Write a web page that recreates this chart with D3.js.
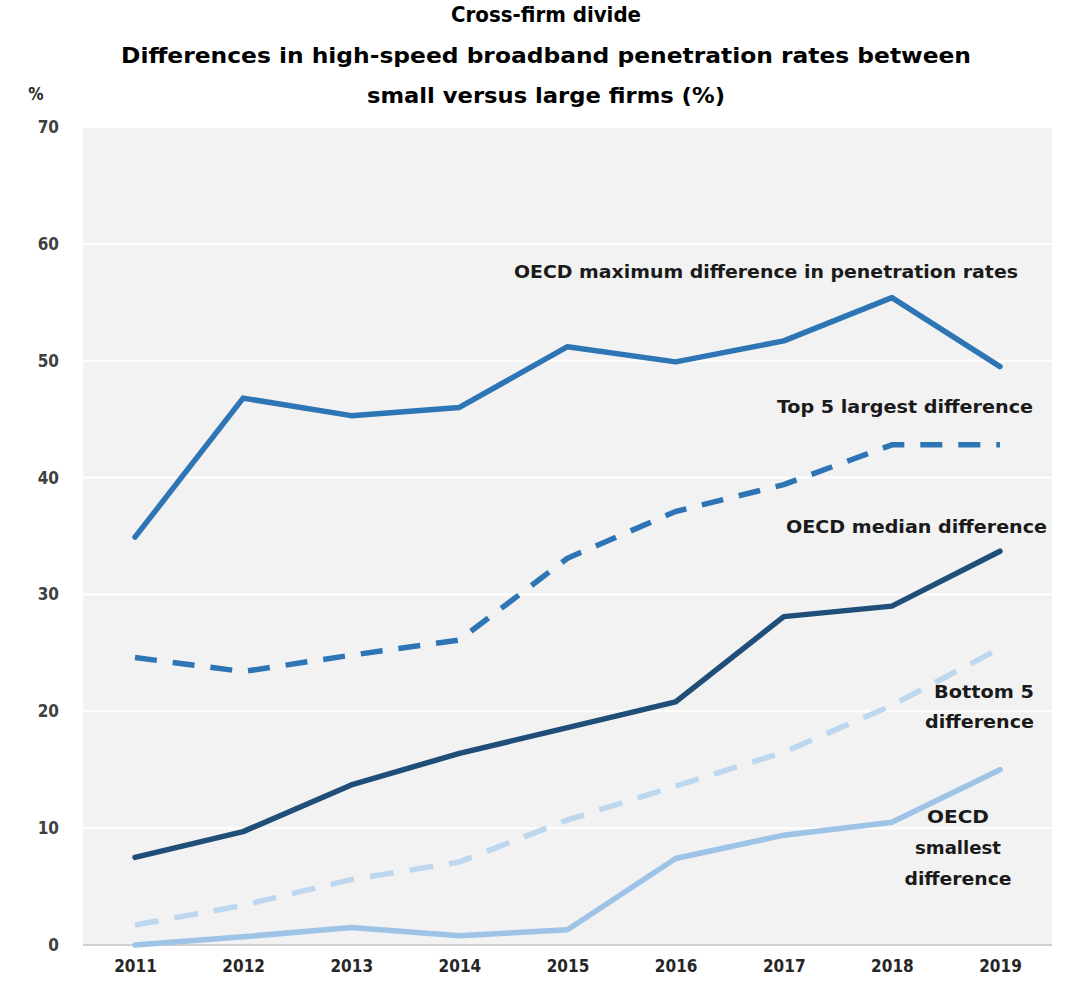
<!DOCTYPE html>
<html>
<head>
<meta charset="utf-8">
<script src="https://cdn.jsdelivr.net/npm/d3@7"></script>
<style>
  html, body { margin: 0; padding: 0; background: #ffffff; }
  svg text { font-family: 'Liberation Sans Narrow', 'DejaVu Sans Condensed', 'Liberation Sans', sans-serif; font-weight: bold; }
</style>
</head>
<body>
<svg id="chart" width="1066" height="991"></svg>
<script>
// Years on the x axis
const years = ["2011","2012","2013","2014","2015","2016","2017","2018","2019"];
// Y axis ticks (%)
const yTicks = [0,10,20,30,40,50,60,70];

// Difference in high-speed broadband penetration rates, small vs large firms (%)
const oecdMax      = [34.9, 46.8, 45.3, 46.0, 51.2, 49.9, 51.7, 55.4, 49.5];
const top5Largest  = [24.6, 23.4, 24.8, 26.1, 33.1, 37.1, 39.4, 42.8, 42.8];
const oecdMedian   = [7.5, 9.7, 13.7, 16.4, 18.6, 20.8, 28.1, 29.0, 33.7];
const bottom5      = [1.7, 3.4, 5.6, 7.1, 10.7, 13.6, 16.5, 20.5, 25.4];
const oecdSmallest = [0.0, 0.7, 1.5, 0.8, 1.3, 7.4, 9.4, 10.5, 15.0];

const titleLines = [
  "Cross-firm divide",
  "Differences in high-speed broadband penetration rates between",
  "small versus large firms (%)"
];

const series = [
  { values: oecdMax,      color: "#2e75b6", dash: null,    label: ["OECD maximum difference in penetration rates"], lx: 1018, ly: 278, anchor: "end", widths: [504] },
  { values: top5Largest,  color: "#2e75b6", dash: "22,16", label: ["Top 5 largest difference"], lx: 1033, ly: 413, anchor: "end", widths: [256] },
  { values: oecdMedian,   color: "#1f4e79", dash: null,    label: ["OECD median difference"], lx: 1047, ly: 533, anchor: "end", widths: [261] },
  { values: bottom5,      color: "#bdd7ee", dash: "24,16", label: ["Bottom 5", "difference"], lx: 1034, ly: 698, anchor: "end", widths: [100, 109], dy: 30 },
  { values: oecdSmallest, color: "#9dc3e6", dash: null,    label: ["OECD", "smallest", "difference"], lx: 958, ly: 823, anchor: "middle", widths: [62, 86, 107], dy: 31 }
];

const svg = d3.select("#chart");
const plot = { left: 83, right: 1052, top: 127, bottom: 945 };

const x = d3.scalePoint().domain(years).range([135, 1000]);
const y = d3.scaleLinear().domain([0, 70]).range([plot.bottom, plot.top]);

// Plot background
svg.append("rect")
  .attr("x", plot.left).attr("y", plot.top)
  .attr("width", plot.right - plot.left).attr("height", plot.bottom - plot.top)
  .attr("fill", "#f2f2f2");

// Horizontal gridlines
svg.append("g")
  .selectAll("line")
  .data(yTicks.filter(t => t > 0))
  .join("line")
  .attr("x1", plot.left).attr("x2", plot.right)
  .attr("y1", d => y(d)).attr("y2", d => y(d))
  .attr("stroke", "#ffffff").attr("stroke-width", 2);

// Baseline
svg.append("line")
  .attr("x1", plot.left).attr("x2", plot.right)
  .attr("y1", y(0)).attr("y2", y(0))
  .attr("stroke", "#d0d0d0").attr("stroke-width", 2);

// Y axis
const yAxis = svg.append("g")
  .attr("transform", `translate(${plot.left - 24},0)`)
  .call(d3.axisLeft(y).tickValues(yTicks).tickSize(0).tickPadding(0));
yAxis.select(".domain").remove();
yAxis.selectAll("text")
  .attr("font-size", 17).attr("fill", "#404040")
  .attr("font-family", "'Liberation Sans Narrow', 'DejaVu Sans Condensed', sans-serif")
  .attr("font-weight", "bold");

// X axis
const xAxis = svg.append("g")
  .attr("transform", `translate(0,${plot.bottom + 15})`)
  .call(d3.axisBottom(x).tickSize(0).tickPadding(0));
xAxis.select(".domain").remove();
xAxis.selectAll("text")
  .attr("font-size", 17).attr("fill", "#262626").attr("dy", "0.71em")
  .attr("font-family", "'Liberation Sans Narrow', 'DejaVu Sans Condensed', sans-serif")
  .attr("font-weight", "bold");

// Unit label
svg.append("text")
  .attr("x", 36).attr("y", 100)
  .attr("text-anchor", "middle")
  .attr("font-size", 17).attr("fill", "#262626")
  .text("%");

// Title
const titleY = [22, 63, 103];
const titleW = [190, 850, 358];
titleLines.forEach((t, i) => {
  svg.append("text")
    .attr("x", 546).attr("y", titleY[i])
    .attr("text-anchor", "middle")
    .attr("font-size", 21).attr("fill", "#000000")
    .attr("textLength", titleW[i]).attr("lengthAdjust", "spacingAndGlyphs")
    .text(t);
});

// Series lines
const line = d3.line()
  .x((d, i) => x(years[i]))
  .y(d => y(d));

svg.append("g")
  .selectAll("path")
  .data(series)
  .join("path")
  .attr("d", d => line(d.values))
  .attr("fill", "none")
  .attr("stroke", d => d.color)
  .attr("stroke-width", 5.5)
  .attr("stroke-linejoin", "round")
  .attr("stroke-linecap", d => d.dash ? "butt" : "round")
  .attr("stroke-dasharray", d => d.dash);

// Series labels
series.forEach(s => {
  s.label.forEach((t, i) => {
    svg.append("text")
      .attr("x", s.lx).attr("y", s.ly + i * (s.dy || 0))
      .attr("text-anchor", s.anchor)
      .attr("font-size", 18).attr("fill", "#1a1a1a")
      .attr("textLength", s.widths[i]).attr("lengthAdjust", "spacingAndGlyphs")
      .text(t);
  });
});
</script>
</body>
</html>
